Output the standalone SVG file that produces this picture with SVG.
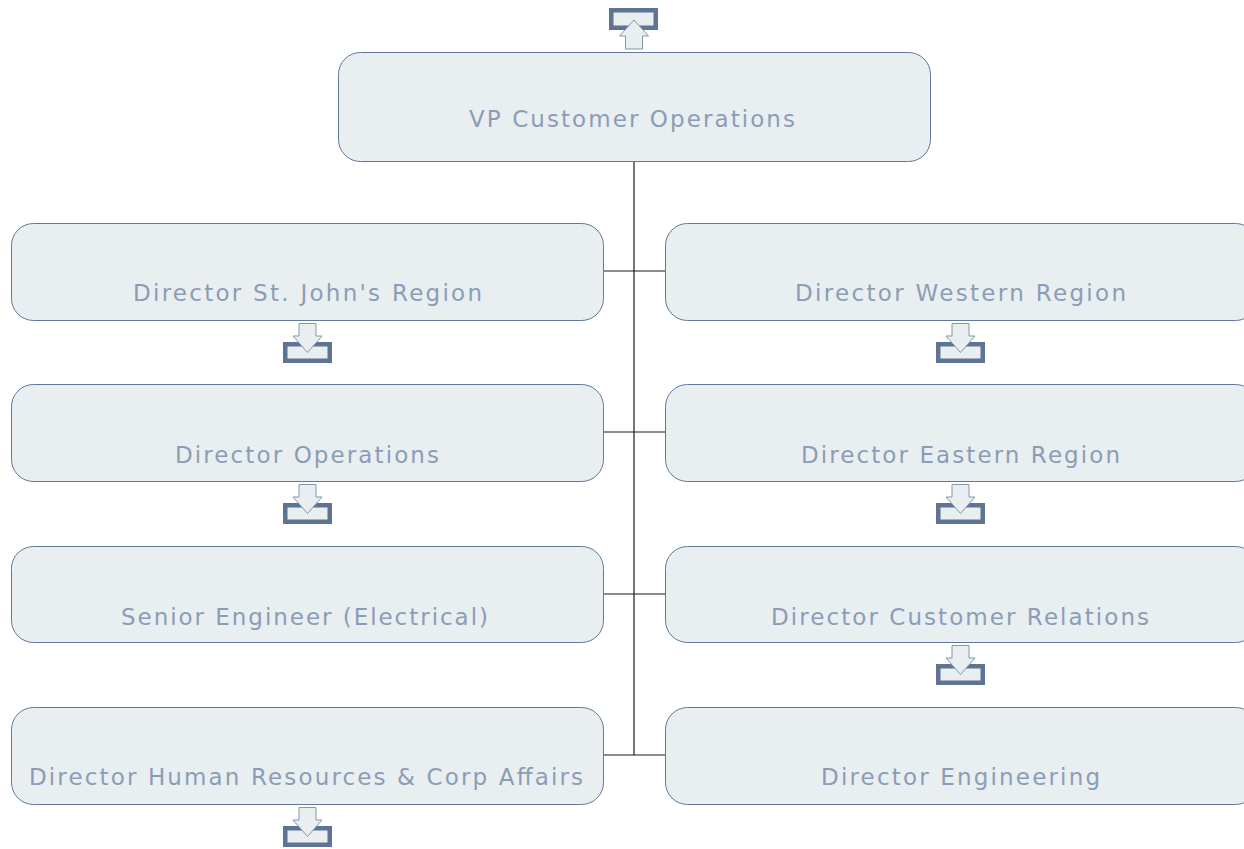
<svg xmlns="http://www.w3.org/2000/svg" width="1244" height="849" viewBox="0 0 1244 849">
<defs>
<style>
.box{fill:#e9eef1;stroke:#62789a;stroke-width:1}
.lbl{font-family:"DejaVu Sans","Liberation Sans",sans-serif;font-size:23px;fill:#8b9db6;text-anchor:middle}
.tray{fill:#e9eef1;stroke:#5f7393;stroke-width:4.5}
.arw{fill:#e9eef1;stroke:#8396b0;stroke-width:1}
.con{fill:none;stroke:#1a1a1a;stroke-width:1.2}
</style>
<g id="dn">
<rect class="tray" x="-22.25" y="24.25" width="44.5" height="16.5"/>
<path class="arw" d="M-8.5,3.5 H8.5 V16 H14.5 L0,32.5 L-14.5,16 H-8.5 Z"/>
</g>
</defs>
<rect width="1244" height="849" fill="#ffffff"/>
<g id="connectors">
<line class="con" x1="634" y1="162" x2="634" y2="755"/>
<line class="con" x1="603" y1="271" x2="665" y2="271"/>
<line class="con" x1="603" y1="432" x2="665" y2="432"/>
<line class="con" x1="603" y1="594" x2="665" y2="594"/>
<line class="con" x1="603" y1="755" x2="665" y2="755"/>
</g>
<g id="up-vp">
<rect class="tray" x="611.25" y="10.25" width="44.5" height="17.5"/>
<path class="arw" d="M625.5,49 H642.5 V36 H648.5 L634,20 L619.5,36 H625.5 Z"/>
</g>
<g id="vp">
<rect class="box" x="338.5" y="52.5" width="592" height="109" rx="22"/>
<text class="lbl" x="632" y="127" textLength="326" lengthAdjust="spacing">VP Customer Operations</text>
</g>
<g id="stjohns">
<rect class="box" x="11.5" y="223.5" width="592" height="97" rx="22"/>
<text class="lbl" x="307.5" y="301" textLength="349" lengthAdjust="spacing">Director St. John's Region</text>
</g>
<g id="western">
<rect class="box" x="665.5" y="223.5" width="592" height="97" rx="22"/>
<text class="lbl" x="960.5" y="301" textLength="331" lengthAdjust="spacing">Director Western Region</text>
</g>
<g id="operations">
<rect class="box" x="11.5" y="384.5" width="592" height="97" rx="22"/>
<text class="lbl" x="307" y="463" textLength="264" lengthAdjust="spacing">Director Operations</text>
</g>
<g id="eastern">
<rect class="box" x="665.5" y="384.5" width="592" height="97" rx="22"/>
<text class="lbl" x="960.5" y="463" textLength="319" lengthAdjust="spacing">Director Eastern Region</text>
</g>
<g id="senior-eng">
<rect class="box" x="11.5" y="546.5" width="592" height="96" rx="22"/>
<text class="lbl" x="304.5" y="625" textLength="367" lengthAdjust="spacing">Senior Engineer (Electrical)</text>
</g>
<g id="customer-rel">
<rect class="box" x="665.5" y="546.5" width="592" height="96" rx="22"/>
<text class="lbl" x="960" y="625" textLength="378" lengthAdjust="spacing">Director Customer Relations</text>
</g>
<g id="hr">
<rect class="box" x="11.5" y="707.5" width="592" height="97" rx="22"/>
<text class="lbl" x="306" y="785" textLength="554" lengthAdjust="spacing">Director Human Resources &amp; Corp Affairs</text>
</g>
<g id="engineering">
<rect class="box" x="665.5" y="707.5" width="592" height="97" rx="22"/>
<text class="lbl" x="960.5" y="785" textLength="279" lengthAdjust="spacing">Director Engineering</text>
</g>
<g id="expanders">
<use href="#dn" x="307.5" y="320"/>
<use href="#dn" x="307.5" y="481"/>
<use href="#dn" x="307.5" y="804"/>
<use href="#dn" x="960.5" y="320"/>
<use href="#dn" x="960.5" y="481"/>
<use href="#dn" x="960.5" y="642"/>
</g>
</svg>
